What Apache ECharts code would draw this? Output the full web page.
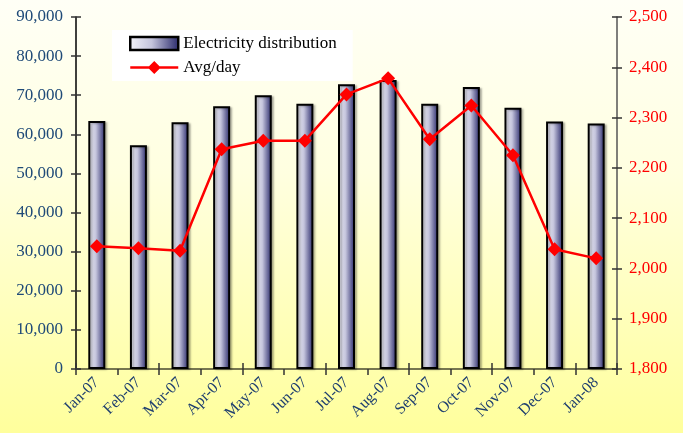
<!DOCTYPE html>
<html><head><meta charset="utf-8">
<script src="https://cdn.jsdelivr.net/npm/echarts@6/dist/echarts.min.js"></script>
<style>
html,body{margin:0;padding:0;}
#c{width:683px;height:433px;background:linear-gradient(to bottom,#FFFFF6 0%,#FFFFE0 40%,#FFFF9C 100%);}
</style></head>
<body><div id="c"></div>
<script>
var categories = ['Jan-07','Feb-07','Mar-07','Apr-07','May-07','Jun-07','Jul-07','Aug-07','Sep-07','Oct-07','Nov-07','Dec-07','Jan-08'];
var electricity = [63400, 57200, 63100, 67200, 70000, 67800, 72800, 73900, 67800, 72100, 66800, 63300, 62800];
var avgPerDay = [2044, 2040, 2035, 2237, 2254, 2254, 2346, 2378, 2257, 2324, 2225, 2038, 2020];

var chart = echarts.init(document.getElementById('c'), null, {renderer:'canvas'});
var serif = 'Liberation Serif';
function fmt(v){ return String(v).replace(/\B(?=(\d{3})+(?!\d))/g, ','); }
var leftAxisBase = {type:'value', min:0, max:90000, interval:10000, position:'left', splitLine:{show:false}};
var rightAxisBase = {type:'value', min:1800, max:2500, interval:100, position:'right', splitLine:{show:false}};
var barGrad = new echarts.graphic.LinearGradient(0,0,1,0,[
  {offset:0,color:'#F4F4FA'},{offset:0.45,color:'#C4C4DC'},{offset:1,color:'#262668'}]);
var lineIcon = 'path://M0,5.3 L48,5.3 L48,7.7 L0,7.7 Z M24,0 L30.5,6.5 L24,13 L17.5,6.5 Z';

chart.setOption({
  animation:false,
  backgroundColor:'transparent',
  grid:{left:76, right:66, top:17, bottom:64, containLabel:false},
  legend:{
    orient:'vertical', left:112, top:30,
    backgroundColor:'#FFFFFF', padding:[5,16,5,17], itemGap:7,
    itemWidth:48, itemHeight:13,
    textStyle:{fontFamily:serif, fontSize:17, color:'#000'},
    data:[{name:'Electricity distribution', icon:'rect', itemStyle:{borderWidth:2.5}},
          {name:'Avg/day', icon:lineIcon, itemStyle:{color:'#FF0000', borderWidth:0}}]
  },
  xAxis:[
    {type:'category', data:categories, position:'bottom',
     axisLine:{lineStyle:{color:'#4A4A30', width:1.5}},
     axisTick:{show:true, length:6, lineStyle:{color:'#333', width:1.5}},
     axisLabel:{rotate:45, fontFamily:serif, fontSize:16, color:'#1F3F6F', margin:11}},
    {type:'category', data:categories, position:'bottom',
     axisLine:{show:false},
     axisTick:{show:true, inside:true, length:6, lineStyle:{color:'#333', width:1.5}},
     axisLabel:{show:false}}
  ],
  yAxis:[
    Object.assign({}, leftAxisBase, {
      axisLine:{show:true, lineStyle:{color:'#000', width:1.5}},
      axisTick:{show:true, length:5, lineStyle:{color:'#333', width:1.5}},
      axisLabel:{fontFamily:serif, fontSize:17, color:'#1F4A78', margin:13, formatter:fmt}}),
    Object.assign({}, rightAxisBase, {
      axisLine:{show:true, lineStyle:{color:'#555', width:1.5}},
      axisTick:{show:true, length:5, lineStyle:{color:'#333', width:1.5}},
      axisLabel:{fontFamily:serif, fontSize:17, color:'#FF0000', margin:12, formatter:fmt}}),
    Object.assign({}, leftAxisBase, {
      axisLine:{show:false}, axisLabel:{show:false},
      axisTick:{show:true, inside:true, length:5, lineStyle:{color:'#333', width:1.5}}}),
    Object.assign({}, rightAxisBase, {
      axisLine:{show:false}, axisLabel:{show:false},
      axisTick:{show:true, inside:true, length:5, lineStyle:{color:'#333', width:1.5}}})
  ],
  series:[
    {name:'Electricity distribution', type:'bar', xAxisIndex:0, yAxisIndex:0,
     data:electricity, barWidth:17,
     itemStyle:{color:barGrad, borderColor:'#000', borderWidth:2,
       shadowColor:'rgba(0,0,0,0.25)', shadowOffsetX:2, shadowOffsetY:1, shadowBlur:2}},
    {name:'Avg/day', type:'line', xAxisIndex:0, yAxisIndex:1,
     data:avgPerDay, symbol:'diamond', symbolSize:14,
     lineStyle:{color:'#FF0000', width:2.5},
     itemStyle:{color:'#FF0000'}}
  ]
});
</script></body></html>
